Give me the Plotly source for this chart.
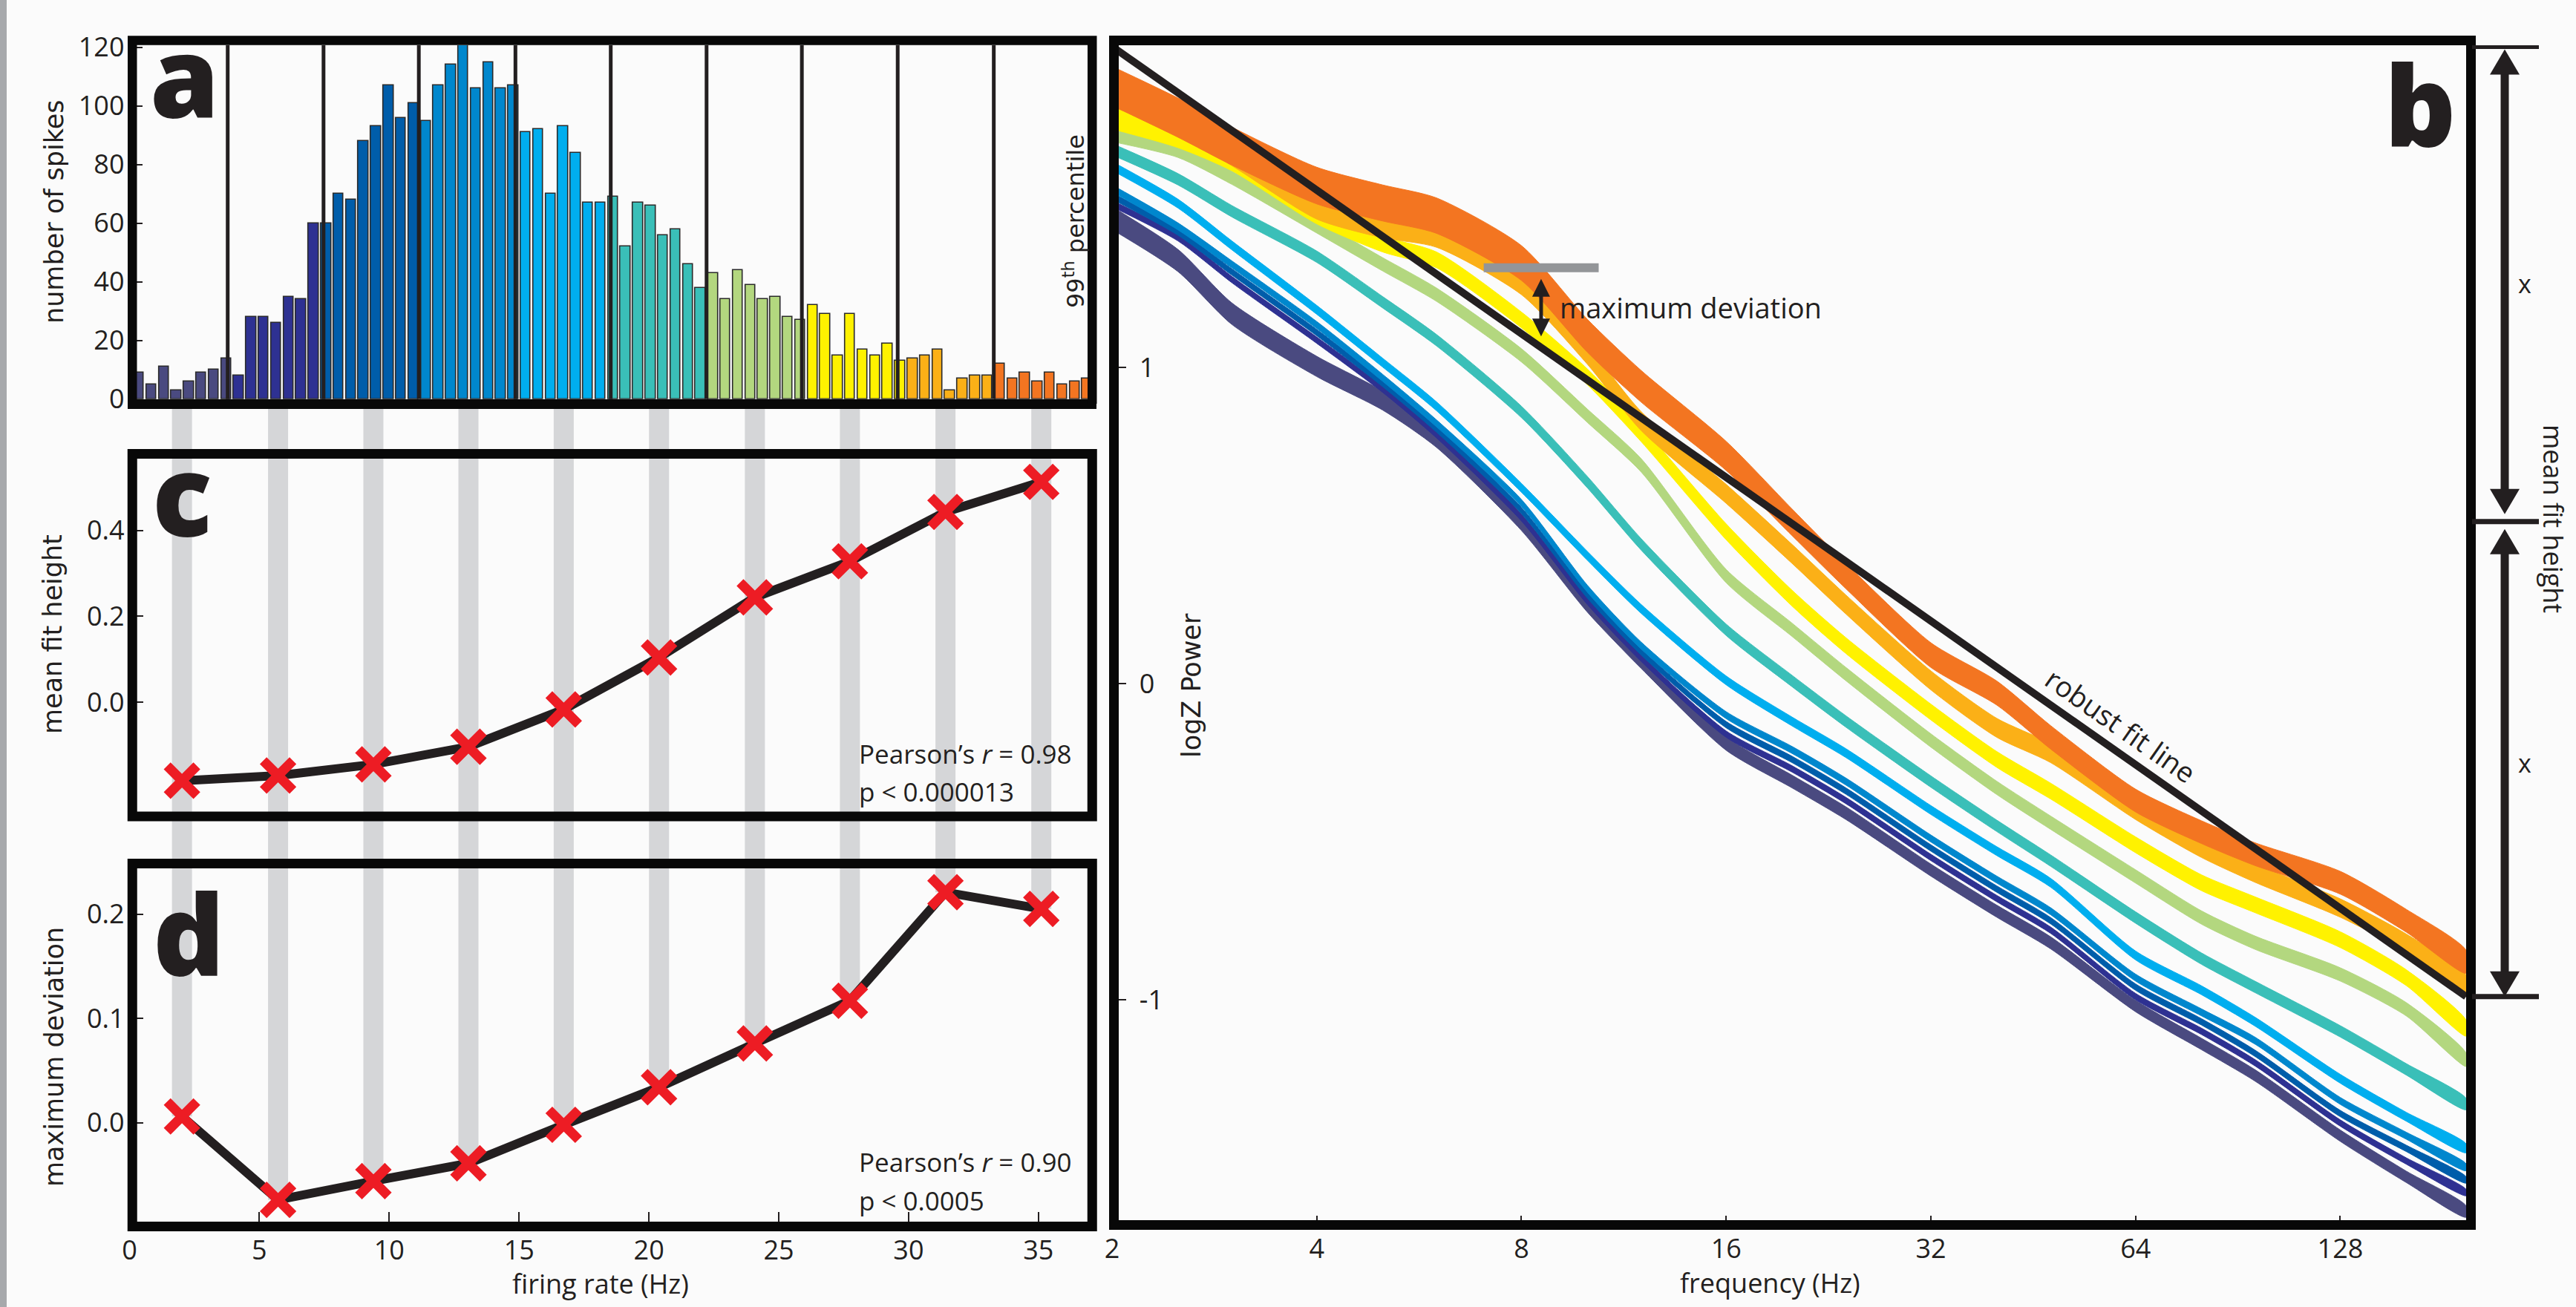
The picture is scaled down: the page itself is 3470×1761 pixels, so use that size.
import numpy as np
import plotly.graph_objects as go

W, H = 3470, 1761

# ---------------- data ----------------
# panel a: spike-count histogram (77 bars), grouped into 10 firing-rate bins
bar_counts = [9, 5, 11, 3, 6, 9, 10, 14,
              8, 28, 28, 26, 35, 34, 60,
              60, 70, 68, 88, 93, 107, 96, 101,
              95, 107, 114, 122, 106, 115, 106, 107,
              91, 92, 70, 93, 84, 67, 67,
              69, 52, 67, 66, 56, 58, 46, 38,
              43, 34, 44, 39, 34, 35, 28, 27,
              32, 29, 15, 29, 17, 15, 19, 13,
              14, 15, 17, 3, 7, 8, 8,
              12, 7, 9, 6, 9, 5, 6, 7]
bar_group_sizes = [8, 7, 8, 8, 7, 8, 8, 8, 7, 8]
bar_first_center = 0.362
bar_pitch = 0.4805
bin_edges = [3.78, 7.47, 11.14, 14.86, 18.53, 22.22, 25.89, 29.58, 33.28]
bin_rates = [2.02, 5.72, 9.39, 13.05, 16.72, 20.39, 24.08, 27.74, 31.42, 35.11]
bin_colors = ["#4A4A80", "#2E3192", "#005DAA", "#0087CD", "#00AEEF",
              "#3ABFB8", "#B3D77F", "#FFF200", "#FBB017", "#F37521"]

# panel c / d
mean_fit_height = [-0.183, -0.171, -0.145, -0.104, -0.017, 0.104, 0.244, 0.328, 0.443, 0.513]
max_deviation = [0.006, -0.074, -0.056, -0.039, -0.002, 0.034, 0.076, 0.117, 0.221, 0.205]

# panel b: spectra (logZ power) per firing-rate bin
freq = [2, 2.5, 3, 4, 5, 6, 8, 10, 12, 16, 20, 24, 32, 40, 48, 64, 80, 96, 128, 160, 196]
pow_bin1 = [1.472, 1.338, 1.17, 1.003, 0.895, 0.775, 0.51, 0.25, 0.07, -0.19, -0.31, -0.41, -0.59, -0.72, -0.82, -1.02, -1.14, -1.24, -1.43, -1.56, -1.67]
pow_bin2 = [1.518, 1.41, 1.278, 1.086, 0.931, 0.787, 0.524, 0.26, 0.08, -0.16, -0.27, -0.37, -0.55, -0.68, -0.78, -0.99, -1.10, -1.20, -1.39, -1.51, -1.61]
pow_bin3 = [1.542, 1.428, 1.302, 1.110, 0.949, 0.805, 0.547, 0.28, 0.10, -0.13, -0.24, -0.34, -0.52, -0.65, -0.75, -0.96, -1.07, -1.17, -1.36, -1.47, -1.57]
pow_bin4 = [1.566, 1.446, 1.326, 1.134, 0.967, 0.823, 0.571, 0.30, 0.12, -0.10, -0.21, -0.31, -0.49, -0.62, -0.72, -0.93, -1.04, -1.13, -1.32, -1.43, -1.53]
pow_bin5 = [1.637, 1.518, 1.386, 1.182, 1.015, 0.877, 0.619, 0.404, 0.236, 0.01, -0.12, -0.22, -0.40, -0.53, -0.63, -0.86, -0.97, -1.07, -1.25, -1.37, -1.47]
pow_bin6 = [1.69, 1.595, 1.494, 1.35, 1.206, 1.086, 0.859, 0.637, 0.44, 0.17, 0.008, -0.12, -0.31, -0.45, -0.56, -0.74, -0.87, -0.96, -1.10, -1.22, -1.33]
pow_bin7 = [1.735, 1.685, 1.60, 1.446, 1.326, 1.23, 1.038, 0.847, 0.69, 0.34, 0.17, 0.03, -0.18, -0.33, -0.44, -0.61, -0.74, -0.82, -0.92, -1.03, -1.19]
pow_bin8 = [1.79, 1.727, 1.65, 1.48, 1.39, 1.34, 1.15, 0.97, 0.79, 0.48, 0.27, 0.12, -0.09, -0.24, -0.34, -0.51, -0.63, -0.70, -0.81, -0.93, -1.09]
pow_bin9 = [1.86, 1.77, 1.67, 1.50, 1.44, 1.41, 1.26, 1.04, 0.83, 0.60, 0.41, 0.25, 0.01, -0.14, -0.22, -0.40, -0.52, -0.60, -0.71, -0.82, -0.95]
pow_bin10 = [1.89, 1.79, 1.70, 1.575, 1.52, 1.48, 1.33, 1.10, 0.94, 0.72, 0.51, 0.34, 0.09, -0.03, -0.17, -0.37, -0.47, -0.54, -0.63, -0.75, -0.88]
# half-widths of the shaded bands
hw_bin1 = [0.036, 0.035, 0.034, 0.032, 0.030, 0.028, 0.026, 0.024, 0.022, 0.021, 0.020, 0.020, 0.019, 0.019, 0.019, 0.018, 0.018, 0.018, 0.018, 0.018, 0.018]
hw_bin2 = [0.010] * 21
hw_bin3 = [0.010] * 21
hw_bin4 = [0.011] * 21
hw_bin5 = [0.014] * 21
hw_bin6 = [0.018] * 21
hw_bin7 = [0.021] * 21
hw_bin8 = [0.036, 0.032, 0.028, 0.026, 0.025, 0.025, 0.025, 0.025, 0.025, 0.025, 0.025, 0.025, 0.025, 0.025, 0.025, 0.025, 0.025, 0.025, 0.025, 0.025, 0.025]
hw_bin9 = [0.034, 0.033, 0.032, 0.031, 0.030, 0.030, 0.030, 0.030, 0.030, 0.030, 0.030, 0.030, 0.030, 0.030, 0.030, 0.030, 0.030, 0.029, 0.029, 0.028, 0.028]
hw_bin10 = [0.062, 0.062, 0.060, 0.058, 0.057, 0.056, 0.055, 0.052, 0.050, 0.046, 0.042, 0.040, 0.039, 0.038, 0.037, 0.036, 0.036, 0.036, 0.036, 0.036, 0.036]
fit_freq = [2, 196]
fit_pow = [2.015, -0.99]
maxdev_freq = 8.55          # where the example deviation arrow is drawn
maxdev_bar_freq = [7.04, 10.39]
maxdev_top = 1.315

spectra = [pow_bin1, pow_bin2, pow_bin3, pow_bin4, pow_bin5,
           pow_bin6, pow_bin7, pow_bin8, pow_bin9, pow_bin10]
halfwidths = [hw_bin1, hw_bin2, hw_bin3, hw_bin4, hw_bin5,
              hw_bin6, hw_bin7, hw_bin8, hw_bin9, hw_bin10]

# ---------------- helpers ----------------
INK = "#231F20"
FRAME = "#080808"
RED = "#ED1C24"
OPEN = "Open Sans, Noto Sans, sans-serif"
DEJA = "DejaVu Sans, sans-serif"


def px(x):
    return x / W


def py(y):
    return 1 - y / H


def dom_x(a, b):
    return [a / W, b / W]


def dom_y(top, bottom):
    return [1 - bottom / H, 1 - top / H]


# axis pixel geometry
AX_L, AX_R = 174.5, 1466.0          # firing-rate axis (panels a, c, d)
XR = [0, 36.92]
A_TOP, A_BOT = 61.0, 537.8
A_RANGE = [0, 120.7]
C_TOP, C_BOT = 618.0, 1093.0
C_RANGE = [-0.2541, 0.567]
D_TOP, D_BOT = 1170.0, 1646.0
D_RANGE = [-0.0949, 0.2439]
B_OCT = 275.75                      # pixels per octave in panel b
B_F0 = 1.99                         # left edge frequency
B_L = 1498.0 - B_OCT * np.log2(2 / B_F0)
B_R, B_TOP, B_BOT = 3322.0, 61.0, 1644.0
B_F1 = 2 * 2 ** ((B_R - 1498.0) / B_OCT)
B_RANGE = [-1.6972, 2.0188]
B_PPU = (B_BOT - B_TOP) / (B_RANGE[1] - B_RANGE[0])   # pixels per logZ unit

fig = go.Figure()

# ---------------- panel a ----------------
bar_x = bar_first_center + bar_pitch * np.arange(len(bar_counts))
bar_col = []
for c, n in zip(bin_colors, bar_group_sizes):
    bar_col += [c] * n
fig.add_trace(go.Bar(x=bar_x, y=bar_counts, width=bar_pitch * 0.8,
                     marker=dict(color=bar_col, line=dict(color="#2A2A2A", width=1.6)),
                     xaxis="x", yaxis="y", hoverinfo="skip"))
# X markers sitting on the bottom frame of panel a
a_px_per_unit = (A_BOT - A_TOP) / (A_RANGE[1] - A_RANGE[0])
a_mark_y = -(544.5 - A_BOT) / a_px_per_unit
mk = dict(symbol="x-thin", size=40, line=dict(width=13, color=RED), color=RED)
fig.add_trace(go.Scatter(x=bin_rates, y=[a_mark_y] * len(bin_rates), mode="markers",
                         marker=mk, cliponaxis=False, xaxis="x", yaxis="y", hoverinfo="skip"))

# ---------------- panel c ----------------
fig.add_trace(go.Scatter(x=bin_rates, y=mean_fit_height, mode="lines+markers",
                         line=dict(color=INK, width=12), marker=mk,
                         xaxis="x3", yaxis="y3", hoverinfo="skip", cliponaxis=False))
# ---------------- panel d ----------------
fig.add_trace(go.Scatter(x=bin_rates, y=max_deviation, mode="lines+markers",
                         line=dict(color=INK, width=12), marker=mk,
                         xaxis="x4", yaxis="y4", hoverinfo="skip", cliponaxis=False))

# ---------------- panel b ----------------
for vals, hw, col in zip(spectra, halfwidths, bin_colors):
    up = [v + h for v, h in zip(vals, hw)]
    lo = [v - h for v, h in zip(vals, hw)]
    fig.add_trace(go.Scatter(x=freq + freq[::-1], y=up + lo[::-1], fill="toself",
                             fillcolor=col, mode="lines",
                             line=dict(color=col, width=1, shape="spline", smoothing=0.7),
                             xaxis="x2", yaxis="y2", hoverinfo="skip"))
fig.add_trace(go.Scatter(x=fit_freq, y=fit_pow, mode="lines", line=dict(color=INK, width=10),
                         xaxis="x2", yaxis="y2", hoverinfo="skip"))
fig.add_trace(go.Scatter(x=maxdev_bar_freq, y=[maxdev_top, maxdev_top], mode="lines",
                         line=dict(color="#939598", width=12),
                         xaxis="x2", yaxis="y2", hoverinfo="skip"))

# ---------------- shapes ----------------
shapes = []
# page strip on the far left
shapes.append(dict(type="rect", xref="paper", yref="paper", x0=0, x1=px(9), y0=0, y1=1,
                   fillcolor="#A7A9AC", line=dict(width=0), layer="below"))
# grey guide bands from panel a down to the points of panel d
d_dom = dom_y(D_TOP, D_BOT)
band_half = 13.5 / ((AX_R - AX_L) / (XR[1] - XR[0]))
for r, v in zip(bin_rates, max_deviation):
    p_bottom = d_dom[0] + (v - D_RANGE[0]) / (D_RANGE[1] - D_RANGE[0]) * (d_dom[1] - d_dom[0])
    shapes.append(dict(type="rect", xref="x4", yref="paper", x0=r - band_half, x1=r + band_half,
                       y0=p_bottom, y1=py(545), fillcolor="#D5D6D8", line=dict(width=0),
                       layer="below"))
# bin boundaries in panel a
for e in bin_edges:
    shapes.append(dict(type="line", xref="x", yref="y domain", x0=e, x1=e, y0=0, y1=1,
                       line=dict(color=INK, width=5), layer="above"))


def frame(x0, y0, x1, y1, w=13, layer="above"):
    return dict(type="rect", xref="paper", yref="paper", x0=px(x0), x1=px(x1),
                y0=py(y1), y1=py(y0), line=dict(color=FRAME, width=w),
                fillcolor="rgba(0,0,0,0)", layer=layer)


# panel a frame: bottom edge below the markers, rest above
shapes.append(dict(type="rect", xref="paper", yref="paper", x0=px(172), x1=px(1477),
                   y0=py(551), y1=py(538), fillcolor=FRAME, line=dict(width=0), layer="below"))
shapes.append(dict(type="path", xref="paper", yref="paper",
                   path="M %f,%f L %f,%f L %f,%f L %f,%f" % (px(178.25), py(544), px(178.25), py(54.5),
                                                             px(1471.25), py(54.5), px(1471.25), py(544)),
                   line=dict(color=FRAME, width=12.5), layer="above"))
shapes.append(frame(178.25, 611.5, 1471.25, 1100.0, 13))
shapes.append(frame(178.25, 1163.5, 1471.25, 1652.5, 13))
shapes.append(frame(1500.5, 54.5, 3328.5, 1650.5, 13))


def arrow_head(xpaper, yval, up, half_w, length, gap=0):
    """Triangle head with its tip at (xpaper, yval) offset by `gap` pixels."""
    s = 1 if up else -1
    tip = -s * gap
    base = tip - s * length
    path = "M %f,%f L %f,%f L 0,%f Z" % (-half_w, base, half_w, base, tip)
    return dict(type="path", xref="paper", yref="y2", xsizemode="pixel", ysizemode="pixel",
                xanchor=xpaper, yanchor=yval, path=path, fillcolor=INK,
                line=dict(width=0), layer="above")


def shaft(xpaper, y_top, y_bot, width, xref="paper"):
    return dict(type="line", xref=xref, yref="y2", x0=xpaper, x1=xpaper, y0=y_top, y1=y_bot,
                line=dict(color=INK, width=width), layer="above")


# mean-fit-height schematic on the right of panel b
fit_mean = float(np.mean(fit_pow))
for yv in [fit_pow[0], fit_mean, fit_pow[1]]:
    shapes.append(dict(type="line", xref="paper", yref="y2", x0=px(3330), x1=px(3420),
                       y0=yv, y1=yv, line=dict(color=INK, width=7), layer="above"))
xa = px(3374)
shapes.append(shaft(xa, fit_pow[0] - 25 / B_PPU, fit_mean + 33 / B_PPU, 11))
shapes.append(shaft(xa, fit_mean - 33 / B_PPU, fit_pow[1] + 25 / B_PPU, 11))
shapes.append(arrow_head(xa, fit_pow[0], True, 20, 34, gap=4))
shapes.append(arrow_head(xa, fit_mean, False, 20, 34, gap=10))
shapes.append(arrow_head(xa, fit_mean, True, 20, 34, gap=10))
shapes.append(arrow_head(xa, fit_pow[1], False, 20, 34, gap=0))

# maximum-deviation arrow
fit_at = fit_pow[0] + (fit_pow[1] - fit_pow[0]) * (np.log2(maxdev_freq) - np.log2(fit_freq[0])) / (
    np.log2(fit_freq[1]) - np.log2(fit_freq[0]))
xm = px(B_L + B_OCT * np.log2(maxdev_freq / B_F0))
dev_top = maxdev_top - 15 / B_PPU
dev_bot = fit_at + 15 / B_PPU
shapes.append(shaft(xm, dev_top - 15 / B_PPU, dev_bot + 15 / B_PPU, 5))
shapes.append(arrow_head(xm, dev_top, True, 12, 24))
shapes.append(arrow_head(xm, dev_bot, False, 12, 24))

# ---------------- annotations ----------------
ann = []


def text(x, y, s, size, family=OPEN, angle=0, xanchor="center", weight=None, color=INK):
    f = dict(family=family, size=size, color=color)
    if weight:
        f["weight"] = weight
    ann.append(dict(x=px(x), y=py(y), xref="paper", yref="paper", text=s, showarrow=False,
                    font=f, textangle=angle, xanchor=xanchor, yanchor="middle"))


# panel letters
text(248, 101, "a", 150, weight=800)
text(3260, 140, "b", 150, weight=800)
text(245, 665, "c", 150, weight=800)
text(254, 1257, "d", 150, weight=800)
# axis titles
text(73, 285, "number of spikes", 35, DEJA, -90)
text(71, 855, "mean fit height", 35, DEJA, -90)
text(73, 1424, "maximum deviation", 35, DEJA, -90)
text(1447, 298, "99<sup>th</sup> percentile", 32, DEJA, -90)
text(1605, 924, "logZ Power", 35, DEJA, -90)
text(809, 1729, "firing rate (Hz)", 36)
text(2384, 1728, "frequency (Hz)", 36)
# stats
text(1155, 1015, "Pearson\u2019s <i>r</i> = 0.98", 35, xanchor="left")
text(1155, 1066, "p < 0.000013", 35, xanchor="left")
text(1155, 1565, "Pearson\u2019s <i>r</i> = 0.90", 35, xanchor="left")
text(1155, 1617, "p < 0.0005", 35, xanchor="left")
# panel b annotations
text(2099, 414, "maximum deviation", 38, xanchor="left")
text(2857, 977, "robust fit line", 38, angle=35)
text(3401, 382, "x", 34)
text(3401, 1028, "x", 34)
text(3440, 699, "mean fit height", 36, angle=90)

# ---------------- layout ----------------
tickfont = dict(family=OPEN, size=36, color=INK)
common = dict(showgrid=False, zeroline=False, showline=False, tickcolor=INK, tickwidth=2,
              tickfont=tickfont, fixedrange=True, automargin=False, ticklabeloverflow="allow")

fig.update_layout(
    width=W, height=H, autosize=False, margin=dict(l=0, r=0, t=0, b=0, pad=0, autoexpand=False),
    paper_bgcolor="#FBFBFB", plot_bgcolor="rgba(0,0,0,0)",
    showlegend=False, bargap=0, hovermode=False,
    shapes=shapes, annotations=ann,
    xaxis=dict(domain=dom_x(AX_L, AX_R), range=XR, anchor="y", showticklabels=False, ticks="", **common),
    yaxis=dict(domain=dom_y(A_TOP, A_BOT), range=A_RANGE, anchor="x",
               tickvals=[0, 20, 40, 60, 80, 100, 120], ticks="inside", ticklen=17,
               ticklabelstandoff=6, **common),
    xaxis2=dict(type="log", domain=dom_x(B_L, B_R), range=[np.log10(B_F0), np.log10(B_F1)], anchor="y2",
                tickvals=[2, 4, 8, 16, 32, 64, 128], ticktext=["2", "4", "8", "16", "32", "64", "128"],
                ticks="inside", ticklen=6, ticklabelstandoff=14, **common),
    yaxis2=dict(domain=dom_y(B_TOP, B_BOT), range=B_RANGE, anchor="x2",
                tickvals=[-1, 0, 1], ticktext=["-1", "0", "1"], ticks="inside", ticklen=21,
                ticklabelposition="inside", ticklabelstandoff=22, **common),
    xaxis3=dict(domain=dom_x(AX_L, AX_R), range=XR, anchor="y3", showticklabels=False, ticks="", **common),
    yaxis3=dict(domain=dom_y(C_TOP, C_BOT), range=C_RANGE, anchor="x3",
                tickvals=[0, 0.2, 0.4], tickformat=".1f", ticks="inside", ticklen=18,
                ticklabelstandoff=6, **common),
    xaxis4=dict(domain=dom_x(AX_L, AX_R), range=XR, anchor="y4",
                tickvals=[0, 5, 10, 15, 20, 25, 30, 35], ticks="inside", ticklen=13,
                ticklabelstandoff=14, **common),
    yaxis4=dict(domain=dom_y(D_TOP, D_BOT), range=D_RANGE, anchor="x4",
                tickvals=[0, 0.1, 0.2], tickformat=".1f", ticks="inside", ticklen=18,
                ticklabelstandoff=6, **common),
)

fig.write_html("out.html", config={"responsive": False, "displayModeBar": False},
               default_width="%dpx" % W, default_height="%dpx" % H,
               post_script="document.body.style.margin='0px';document.body.style.overflow='hidden';")
